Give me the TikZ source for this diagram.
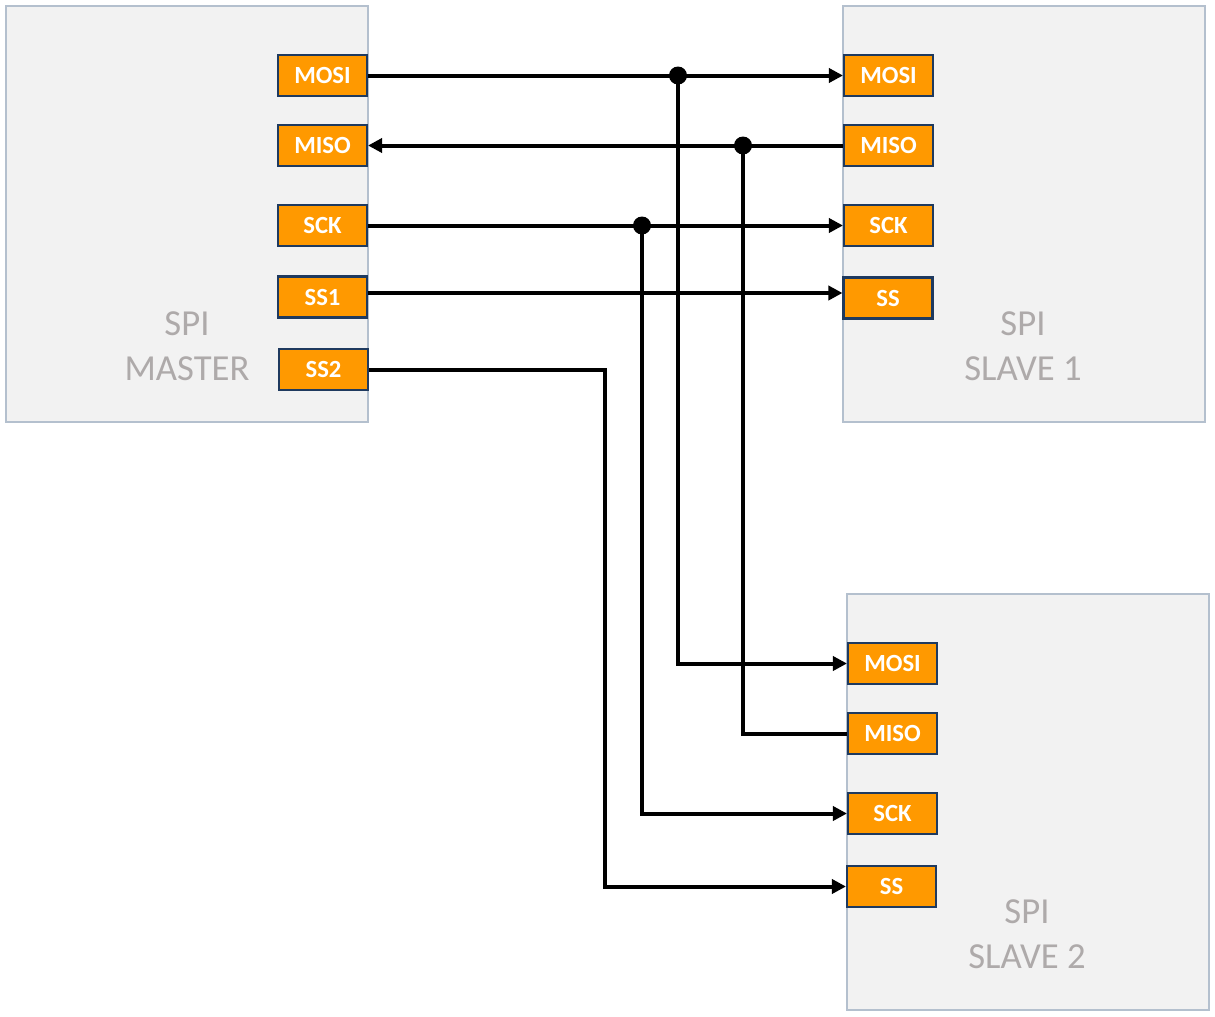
\documentclass[tikz,border=0pt]{standalone}
\usepackage{fontspec}
\setmainfont{Carlito}
\usetikzlibrary{arrows.meta}
\definecolor{blockfill}{HTML}{F2F2F2}
\definecolor{blockline}{HTML}{B4C0CE}
\definecolor{pinfill}{HTML}{FF9900}
\definecolor{pinline}{HTML}{1F3A5F}
\definecolor{labelgray}{HTML}{AEAAAA}
\tikzset{
  block/.style={draw=blockline, fill=blockfill, line width=1.5pt, inner sep=0pt,
    minimum width=271.5pt, minimum height=312pt},
  pin/.style={draw=pinline, fill=pinfill, line width=1.8pt, inner sep=0pt,
    minimum width=66.5pt, minimum height=30.5pt, text=white,
    font=\bfseries\fontsize{18.5}{22}\selectfont},
  biglabel/.style={text=labelgray, anchor=base, inner sep=0pt,
    font=\fontsize{27.5}{33}\selectfont},
  wire/.style={line width=3pt, draw=black},
  tip/.style={-{Triangle[length=10.5pt,width=10.5pt]}},
  junction/.style={fill=black}
}
\begin{document}
\begin{tikzpicture}[x=0.75pt,y=-0.75pt]
\useasboundingbox (0,0) rectangle (1215,1017);
% blocks
\node[block] (master) at (187,214) {};
\node[block] (slave1) at (1024,214) {};
\node[block] (slave2) at (1028,802) {};
% big labels
\node[biglabel] (mspi) at (187,335) {SPI};
\node[biglabel] (mname) at (187,380) {MASTER};
\node[biglabel] (s1spi) at (1023,335) {SPI};
\node[biglabel] (s1name) at (1023,380) {SLAVE 1};
\node[biglabel] (s2spi) at (1027,923) {SPI};
\node[biglabel] (s2name) at (1027,968) {SLAVE 2};
% master pins
\node[pin] (mmosi) at (322.5,75.5) {MOSI};
\node[pin] (mmiso) at (322.5,145.5) {MISO};
\node[pin] (msck) at (322.5,225.5) {SCK};
\node[pin] (mss1) at (322.5,297) {SS1};
\node[pin] (mss2) at (323.5,369.5) {SS2};
% slave 1 pins
\node[pin] (s1mosi) at (888.5,75.5) {MOSI};
\node[pin] (s1miso) at (888.5,145.5) {MISO};
\node[pin] (s1sck) at (888.5,225.5) {SCK};
\node[pin] (s1ss) at (888,298) {SS};
% slave 2 pins
\node[pin] (s2mosi) at (892.5,663.5) {MOSI};
\node[pin] (s2miso) at (892.5,733.5) {MISO};
\node[pin] (s2sck) at (892.5,813.5) {SCK};
\node[pin] (s2ss) at (891.5,886.5) {SS};
% junctions
\coordinate (jmosi) at (678,0 |- mmosi.east);
\coordinate (jmiso) at (743,0 |- mmiso.east);
\coordinate (jsck) at (642,0 |- msck.east);
\coordinate (bss2) at (605,0 |- mss2.east);
% wires
\draw[wire,tip] (mmosi.east) -- (s1mosi.west);
\draw[wire,tip] (jmosi) |- (s2mosi.west);
\draw[wire,tip] (s1miso.west) -- (mmiso.east);
\draw[wire] (s2miso.west) -| (jmiso);
\draw[wire,tip] (msck.east) -- (s1sck.west);
\draw[wire,tip] (jsck) |- (s2sck.west);
\draw[wire,tip] ([yshift=3pt]mss1.east) -- ([yshift=3.75pt]s1ss.west);
\draw[wire,tip] (mss2.east) -- (bss2) |- (s2ss.west);
\fill[junction] (jmosi) circle[radius=6.75pt];
\fill[junction] (jmiso) circle[radius=6.75pt];
\fill[junction] (jsck) circle[radius=6.75pt];
\end{tikzpicture}
\end{document}
